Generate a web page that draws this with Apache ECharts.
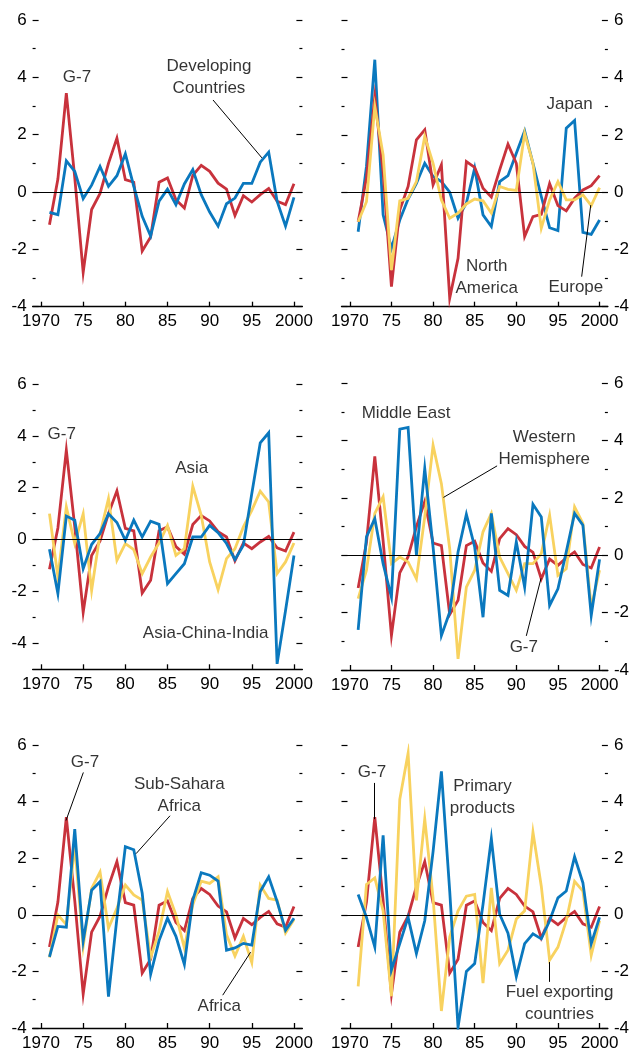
<!DOCTYPE html>
<html>
<head>
<meta charset="utf-8">
<script src="https://cdn.jsdelivr.net/npm/echarts@6/dist/echarts.min.js"></script>
<style>
html,body{margin:0;padding:0;background:#fff;}
#chart{width:632px;height:1053px;}
</style>
</head>
<body>
<div id="chart"></div>
<script>
// ---------- data ----------
const years = [1971,1972,1973,1974,1975,1976,1977,1978,1979,1980,1981,1982,1983,1984,1985,1986,1987,1988,1989,1990,1991,1992,1993,1994,1995,1996,1997,1998,1999,2000];

const g7 = [-1.14,0.45,3.45,0.5,-2.8,-0.61,-0.05,1.0,1.88,0.43,0.34,-2.06,-1.57,0.34,0.49,-0.27,-0.56,0.58,0.93,0.72,0.31,0.1,-0.82,-0.13,-0.35,-0.09,0.12,-0.32,-0.44,0.29];
const developing = [-0.71,-0.79,1.09,0.72,-0.23,0.24,0.89,0.2,0.57,1.33,0.2,-0.85,-1.54,-0.32,0.1,-0.44,0.28,0.78,-0.09,-0.7,-1.19,-0.41,-0.21,0.3,0.3,1.04,1.39,-0.32,-1.19,-0.19];
const japan = [-1.38,0.9,4.63,-0.79,-1.96,-0.97,-0.24,0.31,1.01,0.55,0.37,0.0,-0.91,-0.38,0.84,-0.79,-1.2,0.37,0.58,1.36,2.14,1.01,-0.15,-1.24,-1.34,2.24,2.51,-1.4,-1.47,-0.97];
const northAmerica = [-1.03,0.5,3.34,0.7,-3.3,-0.62,0.2,1.83,2.18,0.26,0.96,-3.7,-2.31,1.07,0.87,0.14,-0.17,0.78,1.68,1.01,-1.55,-0.85,-0.77,0.3,-0.47,-0.65,-0.21,0.08,0.23,0.58];
const europe = [-1.03,-0.33,3.0,1.3,-2.72,-0.3,-0.21,0.37,1.95,1.01,-0.27,-0.91,-0.73,-0.41,-0.24,-0.3,-0.73,0.2,0.1,0.06,2.06,1.01,-1.26,-0.27,0.37,-0.27,-0.27,-0.09,-0.47,0.16];
const asiaChinaIndia = [-0.37,-2.08,0.91,0.75,-1.12,-0.19,0.23,1.0,0.66,-0.03,0.75,0.1,0.71,0.59,-1.7,-1.31,-0.93,0.1,0.1,0.55,0.27,-0.15,-0.77,-0.22,1.78,3.73,4.12,-4.79,-2.73,-0.61];
const asia = [1.0,-1.44,1.26,-0.15,1.0,-1.96,0.23,1.58,-0.8,-0.15,-0.39,-1.31,-0.67,-0.13,0.55,-0.61,-0.35,2.06,0.94,-0.86,-1.93,-0.73,-0.35,0.49,1.13,1.87,1.45,-1.31,-0.86,-0.13];
const middleEast = [-2.6,0.64,1.28,-0.29,-1.46,4.4,4.46,0.0,3.03,0.29,-2.8,-1.98,0.12,1.43,0.29,-2.16,1.46,-1.22,-1.4,0.47,-1.11,1.78,1.34,-1.75,-1.17,0.12,1.46,1.05,-2.1,-0.14];
const westernHemisphere = [-1.51,-0.52,1.46,2.04,-0.29,-0.06,-0.23,-0.82,1.34,3.84,2.5,0.23,-3.61,-1.11,-0.52,0.82,1.46,-0.06,-0.64,-1.22,-0.29,-0.29,0.06,1.4,-0.7,-0.47,1.69,1.11,-1.81,-0.52];
const subSaharaAfrica = [-1.49,-0.41,-0.44,3.03,-0.93,0.87,1.17,-2.89,-0.12,2.41,2.3,0.76,-2.1,-0.91,-0.12,-0.76,-1.75,0.52,1.49,1.4,1.19,-1.25,-1.17,-1.01,-1.07,0.82,1.34,0.47,-0.55,-0.12];
const africa = [-1.51,0.0,-0.35,2.45,-1.11,0.93,1.51,-0.47,0.23,1.05,0.7,0.52,-1.51,-0.58,0.82,0.0,-1.17,0.35,1.19,1.11,1.34,-0.7,-1.46,-0.76,-1.69,1.05,0.58,0.52,-0.64,-0.17];
const primaryProducts = [0.72,-0.09,-1.14,2.81,-1.95,-1.02,-0.09,-1.37,-0.21,2.23,5.07,0.84,-3.98,-2.0,-1.72,0.37,2.69,0.02,-0.65,-2.18,-1.02,-0.67,-0.85,-0.21,0.6,0.84,2.05,1.13,-1.02,-0.09];
const fuelExporting = [-2.53,1.07,1.3,0.14,-2.88,4.08,5.71,0.51,3.39,0.6,-3.4,-0.79,0.14,0.66,0.72,-2.41,0.95,-1.72,-1.25,-0.15,0.14,2.92,1.01,-1.6,-1.14,-0.21,1.18,0.84,-1.43,-0.21];

const xTickValues = [1970,1975,1980,1985,1990,1995,2000];
const xTickLabels = ['1970','75','80','85','90','95','2000'];
const yMajorTicks = [-4,-2,0,2,4,6];
const yMajorLabels = ['-4','-2','0','2','4','6'];

// ---------- style / layout ----------
const FONT = "'Liberation Sans Narrow','Liberation Sans',Arial,sans-serif";
const FONT_SIZE = 17;
const RED = '#c8323c', BLUE = '#0a78be', YELLOW = '#f8d25f';
const LEFT = {left: 32.6, width: 269.8};
const RIGHT = {left: 341.5, width: 273};

const panels = [
  {pos: LEFT,  top: 20,    height: 286.7, min: -4, max: 6, side: 'left',
   series: [[g7, RED], [developing, BLUE]],
   notes: [
     {t: 'G-7', at: [1974.27, 4.01]},
     {t: 'Developing\nCountries', at: [1989.92, 4.0]}
   ],
   leaders: [[[1990.4, 3.21], [1996.2, 1.19]]]},
  {pos: RIGHT, top: 20.5,  height: 286.2, min: -4, max: 6, side: 'right',
   series: [[japan, BLUE], [northAmerica, RED], [europe, YELLOW]],
   notes: [
     {t: 'Japan', at: [1996.4, 3.08]},
     {t: 'North\nAmerica', at: [1986.44, -2.96]},
     {t: 'Europe', at: [1997.15, -3.32]}
   ],
   leaders: [[[1997.85, -2.95], [1998.94, -0.45]]]},
  {pos: LEFT,  top: 384,   height: 285.3, min: -5, max: 6, side: 'left',
   series: [[g7, RED], [asia, YELLOW], [asiaChinaIndia, BLUE]],
   notes: [
     {t: 'G-7', at: [1972.45, 4.07]},
     {t: 'Asia', at: [1987.87, 2.75]},
     {t: 'Asia-China-India', at: [1989.53, -3.61]}
   ],
   leaders: []},
  {pos: RIGHT, top: 383.3, height: 286.7, min: -4, max: 6, side: 'right',
   series: [[g7, RED], [westernHemisphere, YELLOW], [middleEast, BLUE]],
   notes: [
     {t: 'Middle East', at: [1976.76, 4.97]},
     {t: 'Western\nHemisphere', at: [1993.35, 3.72]},
     {t: 'G-7', at: [1990.9, -3.21]}
   ],
   leaders: [[[1987.69, 3.12], [1981.25, 2.02]], [[1991.2, -2.81], [1992.97, -0.8]]]},
  {pos: LEFT,  top: 745,   height: 286.7, min: -4, max: 6, side: 'left',
   series: [[g7, RED], [africa, YELLOW], [subSaharaAfrica, BLUE]],
   notes: [
     {t: 'G-7', at: [1975.22, 5.4]},
     {t: 'Sub-Sahara\nAfrica', at: [1986.4, 4.21]},
     {t: 'Africa', at: [1991.14, -3.22]}
   ],
   leaders: [[[1975.02, 5.03], [1972.96, 3.33]], [[1985.3, 3.5], [1981.27, 2.16]], [[1991.55, -2.84], [1994.86, -1.32]]]},
  {pos: RIGHT, top: 745,   height: 286.7, min: -4, max: 6, side: 'right',
   series: [[g7, RED], [fuelExporting, YELLOW], [primaryProducts, BLUE]],
   notes: [
     {t: 'G-7', at: [1972.66, 5.03]},
     {t: 'Primary\nproducts', at: [1985.93, 4.15]},
     {t: 'Fuel exporting\ncountries', at: [1995.19, -3.13]}
   ],
   leaders: [[[1972.93, 4.66], [1972.93, 3.38]], [[1993.98, -1.67], [1993.98, -2.37]]]}
];

const textStyle = {fontFamily: FONT, fontSize: FONT_SIZE, color: '#000'};
const grid = [], xAxis = [], yAxis = [], series = [];

function oddTicks(min, max) {
  const r = [];
  for (let v = Math.ceil(min); v <= max; v++) if (Math.abs(v % 2) === 1 && v !== min) r.push(v);
  return r;
}

panels.forEach((p, gi) => {
  grid.push({left: p.pos.left, width: p.pos.width, top: p.top, height: p.height, containLabel: false});
  xAxis.push({
    type: 'value', gridIndex: gi, min: 1969, max: 2001,
    axisLine: {show: true, onZero: false, lineStyle: {color: '#000', width: 1.3}},
    axisTick: {show: true, inside: true, length: 5, customValues: xTickValues, lineStyle: {color: '#000', width: 1.3}},
    axisLabel: {show: true, customValues: xTickValues, margin: 5,
      formatter: v => xTickLabels[xTickValues.indexOf(v)] || '', ...textStyle, lineHeight: 20},
    splitLine: {show: false}
  });
  const base = yAxis.length;
  const majors = yMajorTicks.filter(v => v >= p.min && v <= p.max);
  const odds = oddTicks(p.min, p.max);
  ['left', 'right'].forEach(side => {
    yAxis.push({
      type: 'value', gridIndex: gi, position: side, min: p.min, max: p.max,
      axisLine: {show: false},
      axisTick: {show: true, inside: true, length: 6, customValues: majors, lineStyle: {color: '#000', width: 1.2}},
      axisLabel: {show: side === p.side, customValues: majors, margin: 6,
        formatter: v => yMajorLabels[yMajorTicks.indexOf(v)] || '', ...textStyle},
      splitLine: {show: false}
    });
    yAxis.push({
      type: 'value', gridIndex: gi, position: side, min: p.min, max: p.max,
      axisLine: {show: false},
      axisTick: {show: true, inside: true, length: 3, customValues: odds, lineStyle: {color: '#000', width: 1.2}},
      axisLabel: {show: false},
      splitLine: {show: false}
    });
  });
  // zero line
  series.push({
    type: 'line', xAxisIndex: gi, yAxisIndex: base, data: [], silent: true, z: 1,
    markLine: {silent: true, symbol: ['none', 'none'], animation: false, label: {show: false},
      lineStyle: {color: '#000', width: 1, type: 'solid'}, data: [{yAxis: 0}]}
  });
  p.series.forEach(([vals, color], si) => {
    series.push({
      type: 'line', xAxisIndex: gi, yAxisIndex: base, z: 2 + si,
      data: years.map((y, i) => [y, vals[i]]),
      showSymbol: false, symbol: 'none', animation: false,
      lineStyle: {color, width: 2.8, join: 'miter'}
    });
  });
  series.push({
    type: 'lines', coordinateSystem: 'cartesian2d', xAxisIndex: gi, yAxisIndex: base, z: 10,
    silent: true, animation: false,
    lineStyle: {color: '#000', width: 1, opacity: 1},
    data: p.leaders.map(c => ({coords: c}))
  });
  series.push({
    type: 'scatter', xAxisIndex: gi, yAxisIndex: base, z: 11, symbolSize: 0, silent: true, animation: false,
    data: p.notes.map(n => ({value: n.at, name: n.t})),
    label: {show: true, position: 'inside', formatter: '{b}', align: 'center', verticalAlign: 'middle',
      ...textStyle, lineHeight: 22}
  });
});

const chart = echarts.init(document.getElementById('chart'), null, {renderer: 'canvas'});
chart.setOption({animation: false, backgroundColor: '#fff', grid, xAxis, yAxis, series});
</script>
</body>
</html>
